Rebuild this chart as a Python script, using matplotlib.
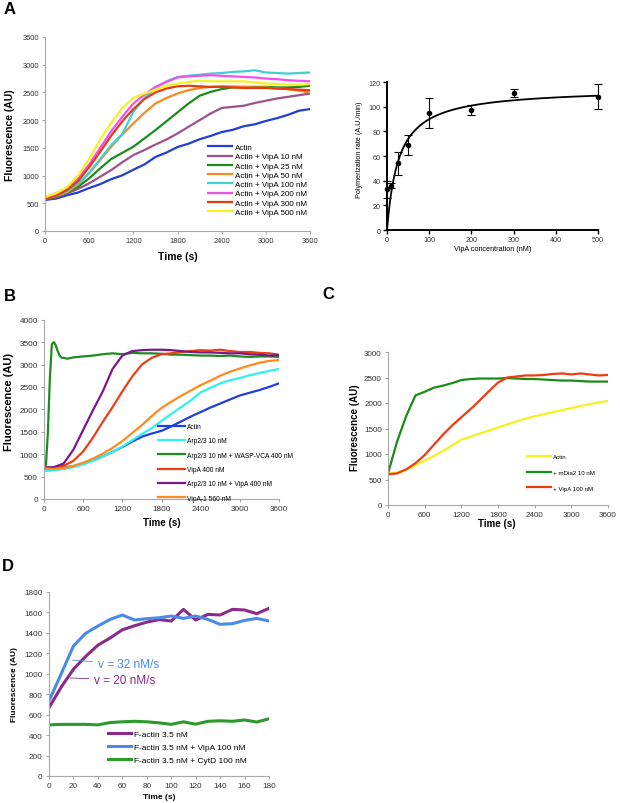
import numpy as np
import matplotlib.pyplot as plt

plt.rcParams['font.family'] = ['Liberation Sans', 'DejaVu Sans']

# ---------------- panel A (left): actin + VipA titration
t_a = np.arange(0, 3601, 150)
a_actin = [560, 585, 645, 695, 775, 845, 935, 1005, 1105, 1200, 1335, 1415, 1515,
           1575, 1655, 1715, 1785, 1825, 1890, 1925, 1985, 2035, 2095, 2170, 2200]
a_vipa10 = [570, 610, 680, 760, 860, 980, 1100, 1240, 1370, 1460, 1560, 1650, 1760,
            1880, 2000, 2120, 2220, 2240, 2260, 2310, 2350, 2390, 2420, 2450, 2480]
a_vipa25 = [570, 620, 690, 800, 950, 1130, 1300, 1410, 1520, 1670, 1820, 1980, 2140,
            2300, 2440, 2510, 2560, 2590, 2600, 2600, 2600, 2590, 2590, 2600, 2620]
a_vipa50 = [580, 630, 700, 840, 1040, 1280, 1520, 1740, 1940, 2130, 2300, 2400, 2480,
            2540, 2580, 2600, 2610, 2610, 2600, 2590, 2590, 2570, 2560, 2530, 2500]
a_vipa100 = [600, 640, 720, 860, 1050, 1300, 1550, 1750, 2150, 2400, 2580, 2700, 2780,
             2800, 2820, 2840, 2850, 2870, 2880, 2900, 2860, 2850, 2840, 2850, 2860]
a_vipa200 = [610, 680, 770, 950, 1200, 1500, 1800, 2060, 2300, 2460, 2600, 2690, 2770,
             2790, 2800, 2810, 2800, 2790, 2780, 2770, 2750, 2740, 2720, 2710, 2700]
a_vipa300 = [580, 640, 740, 900, 1150, 1430, 1720, 1980, 2200, 2380, 2500, 2570, 2610,
             2620, 2610, 2600, 2600, 2590, 2580, 2580, 2580, 2570, 2560, 2550, 2540]
a_vipa500 = [610, 680, 790, 1000, 1300, 1650, 1950, 2220, 2400, 2480, 2550, 2620, 2660,
             2690, 2710, 2700, 2700, 2700, 2700, 2680, 2660, 2650, 2640, 2640, 2650]
a_labels = ['Actin', 'Actin + VipA 10 nM', 'Actin + VipA 25 nM', 'Actin + VipA 50 nM',
            'Actin + VipA 100 nM', 'Actin + VipA 200 nM', 'Actin + VipA 300 nM',
            'Actin + VipA 500 nM']
a_colors = ['#1f3fd8', '#a0508a', '#1e8a1e', '#f88a20', '#40d0d0', '#f050f0',
            '#e83a10', '#f8f020']

# ---------------- panel A (right): rate vs VipA concentration
conc = [0, 10, 25, 50, 100, 200, 300, 500]
rate = [33, 36, 54, 69, 95, 97, 111, 108]
rate_err = [7, 2, 9, 8, 12, 4, 3, 10]
vmax = 115.0   # hyperbolic fit
km = 28.0

# ---------------- panel B: Arp2/3
t_b = np.arange(0, 3601, 150)
b_actin = [680, 690, 700, 730, 790, 860, 950, 1050, 1160, 1280, 1390, 1460, 1520,
           1620, 1730, 1840, 1940, 2040, 2130, 2220, 2310, 2370, 2430, 2500, 2580]
b_arp = [620, 640, 670, 710, 770, 850, 950, 1050, 1170, 1310, 1450, 1580, 1740,
         1900, 2050, 2200, 2380, 2480, 2580, 2650, 2700, 2760, 2810, 2860, 2900]
t_b_vca = [0, 30, 60, 90, 120, 150, 180, 210, 240, 270, 300, 360, 450, 600, 750, 900,
           1050, 1200, 1350, 1500, 1650, 1800, 1950, 2100, 2250, 2400, 2550, 2700,
           2850, 3000, 3150, 3300, 3450, 3600]
b_vca = [720, 760, 1500, 2700, 3450, 3500, 3430, 3300, 3200, 3150, 3150, 3130, 3160,
         3180, 3200, 3230, 3250, 3230, 3260, 3250, 3250, 3240, 3220, 3220, 3210, 3200,
         3200, 3190, 3200, 3180, 3170, 3180, 3180, 3170]
b_vipa = [700, 700, 740, 850, 1060, 1370, 1720, 2050, 2400, 2730, 3000, 3150, 3230,
          3250, 3280, 3300, 3320, 3310, 3330, 3300, 3280, 3280, 3260, 3250, 3220]
b_arp_vipa = [700, 710, 790, 1100, 1540, 1980, 2400, 2900, 3200, 3300, 3320, 3330, 3330,
              3320, 3300, 3280, 3270, 3270, 3260, 3250, 3250, 3230, 3220, 3200, 3210]
b_vipa1 = [680, 670, 690, 740, 810, 900, 1010, 1140, 1290, 1470, 1650, 1850, 2030,
           2170, 2300, 2420, 2540, 2640, 2750, 2840, 2910, 2980, 3040, 3080, 3100]
b_labels = ['Actin', 'Arp2/3 10 nM', 'Arp2/3 10 nM + WASP-VCA 400 nM', 'VipA 400 nM',
            'Arp2/3 10 nM + VipA 400 nM', 'VipA-1 560 nM']
b_colors = ['#1f3fe0', '#30f0f0', '#1e8c1e', '#f03c14', '#7a1a8a', '#ff8a1e']

# ---------------- panel C: mDia2
t_c = np.arange(0, 3601, 150)
c_actin = [620, 640, 690, 780, 870, 960, 1060, 1170, 1280, 1340, 1400, 1460, 1520,
           1580, 1640, 1690, 1740, 1780, 1820, 1860, 1900, 1940, 1980, 2010, 2040]
c_mdia = [620, 1250, 1750, 2150, 2220, 2300, 2340, 2390, 2450, 2470, 2480, 2480, 2480,
          2490, 2480, 2470, 2470, 2460, 2450, 2440, 2440, 2430, 2420, 2420, 2420]
c_vipa = [600, 620, 700, 820, 980, 1180, 1380, 1560, 1720, 1880, 2050, 2230, 2400,
          2500, 2520, 2540, 2540, 2550, 2570, 2580, 2560, 2580, 2560, 2540, 2550]
c_labels = ['Actin', '+ mDia2 10 nM', '+ VipA 100 nM']
c_colors = ['#f5f020', '#1a8c1a', '#f03a10']

# ---------------- panel D: F-actin elongation
t_d = np.arange(0, 181, 10)
d_factin = [668, 870, 1045, 1170, 1280, 1350, 1430, 1470, 1505, 1530, 1516, 1630, 1526,
            1581, 1575, 1630, 1624, 1588, 1640]
d_vipa = [734, 1000, 1272, 1396, 1467, 1532, 1575, 1526, 1539, 1548, 1565, 1542, 1565,
          1532, 1484, 1490, 1522, 1542, 1516]
d_cytd = [500, 505, 505, 505, 500, 523, 530, 535, 530, 520, 505, 530, 507, 535, 540,
          535, 548, 528, 560]
d_labels = ['F-actin 3.5 nM', 'F-actin 3.5 nM + VipA 100 nM', 'F-actin 3.5 nM + CytD 100 nM']
d_colors = ['#8a2a8a', '#4a8ae8', '#2a9a2a']

W, H = 620, 804
fig = plt.figure(figsize=(W / 100, H / 100), dpi=100)


def px_axes(x0, x1, ytop, ybot):
    return fig.add_axes([x0 / W, (H - ybot) / H, (x1 - x0) / W, (ybot - ytop) / H])


def excel_style(ax, fs):
    for s in ['top', 'right']:
        ax.spines[s].set_visible(False)
    for s in ['left', 'bottom']:
        ax.spines[s].set_color('#a8a8a8')
        ax.spines[s].set_linewidth(0.8)
    ax.tick_params(colors='#a8a8a8', labelcolor='#333333', labelsize=fs,
                   length=2.5, width=0.8, pad=2)


def legend_at(ax, x, y, fs, ls, hl):
    leg = ax.legend(loc='upper left', bbox_to_anchor=(x / W, (H - y) / H),
                    bbox_transform=fig.transFigure, frameon=False, fontsize=fs,
                    labelspacing=ls, handlelength=hl, handletextpad=0.3,
                    borderpad=0, borderaxespad=0)
    return leg


# ---- A left
ax = px_axes(45, 310, 38, 232)
for y, lab, c in zip([a_actin, a_vipa10, a_vipa25, a_vipa50, a_vipa100, a_vipa200,
                      a_vipa300, a_vipa500], a_labels, a_colors):
    ax.plot(t_a, y, color=c, lw=1.6, label=lab)
ax.set_xlim(0, 3600)
ax.set_ylim(0, 3500)
ax.set_xticks(np.arange(0, 3601, 600))
ax.set_yticks(np.arange(0, 3501, 500))
excel_style(ax, 5.4)
ax.set_xlabel('Time (s)', fontsize=7.5, fontweight='bold', va='center')
ax.set_ylabel('Fluorescence (AU)', fontsize=7.5, fontweight='bold', va='center')
ax.xaxis.set_label_coords(0.5, -0.129)
ax.yaxis.set_label_coords(-0.132, 0.5)
legend_at(ax, 208, 144.5, 5.8, 0.2, 3.0)

# ---- A right
ax = px_axes(387, 598, 83, 231)
x_fit = np.linspace(0, 500, 300)
ax.plot(x_fit, vmax * x_fit / (km + x_fit), color='black', lw=1.3)
ax.errorbar(conc, rate, yerr=rate_err, fmt='o', color='black', ms=3, capsize=3,
            elinewidth=0.8, capthick=0.8, clip_on=False)
ax.set_xlim(0, 500)
ax.set_ylim(0, 120)
ax.set_xticks(np.arange(0, 501, 100))
ax.set_yticks(np.arange(0, 121, 20))
for s in ['top', 'right']:
    ax.spines[s].set_visible(False)
for s in ['left', 'bottom']:
    ax.spines[s].set_linewidth(1.4)
ax.tick_params(labelsize=5.2, length=3, width=1, pad=1.5, labelcolor='#333333')
ax.set_xlabel('VipA concentration (nM)', fontsize=5.2, va='center')
ax.set_ylabel('Polymerization rate (A.U./min)', fontsize=5.2, va='center')
ax.xaxis.set_label_coords(0.502, -0.128)
ax.yaxis.set_label_coords(-0.128, 0.547)

# ---- B
ax = px_axes(44, 279, 320.7, 500)
ax.plot(t_b, b_actin, color=b_colors[0], lw=1.6, label=b_labels[0])
ax.plot(t_b, b_arp, color=b_colors[1], lw=1.6, label=b_labels[1])
ax.plot(t_b_vca, b_vca, color=b_colors[2], lw=1.6, label=b_labels[2])
ax.plot(t_b, b_vipa, color=b_colors[3], lw=1.6, label=b_labels[3])
ax.plot(t_b, b_arp_vipa, color=b_colors[4], lw=1.6, label=b_labels[4])
ax.plot(t_b, b_vipa1, color=b_colors[5], lw=1.6, label=b_labels[5])
ax.set_xlim(0, 3600)
ax.set_ylim(0, 4000)
ax.set_xticks(np.arange(0, 3601, 600))
ax.set_yticks(np.arange(0, 4001, 500))
excel_style(ax, 5.9)
ax.set_xlabel('Time (s)', fontsize=7, fontweight='bold', va='center')
ax.set_ylabel('Fluorescence (AU)', fontsize=8, fontweight='bold', va='center')
ax.xaxis.set_label_coords(0.5, -0.128)
ax.yaxis.set_label_coords(-0.149, 0.547)
legend_at(ax, 158, 424, 4.8, 1.1, 4.0)

# ---- C
ax = px_axes(388, 608, 353, 506)
for y, lab, c in zip([c_actin, c_mdia, c_vipa], c_labels, c_colors):
    ax.plot(t_c, y, color=c, lw=1.6, label=lab)
ax.set_xlim(0, 3600)
ax.set_ylim(0, 3000)
ax.set_xticks(np.arange(0, 3601, 600))
ax.set_yticks(np.arange(0, 3001, 500))
excel_style(ax, 5.8)
ax.set_xlabel('Time (s)', fontsize=7, fontweight='bold', va='center')
ax.set_ylabel('Fluorescence (AU)', fontsize=7, fontweight='bold', va='center')
ax.xaxis.set_label_coords(0.495, -0.118)
ax.yaxis.set_label_coords(-0.15, 0.51)
legend_at(ax, 527, 455, 4.4, 1.7, 4.0)

# ---- D
ax = px_axes(49, 269, 593, 777)
for y, lab, c in zip([d_factin, d_vipa, d_cytd], d_labels, d_colors):
    ax.plot(t_d, y, color=c, lw=2.2, label=lab)
ax.set_xlim(0, 180)
ax.set_ylim(0, 1800)
ax.set_xticks(np.arange(0, 181, 20))
ax.set_yticks(np.arange(0, 1801, 200))
excel_style(ax, 5.9)
ax.set_xlabel('Time (s)', fontsize=6, fontweight='bold', va='center')
ax.set_ylabel('Fluorescence (AU)', fontsize=6, fontweight='bold', va='center')
ax.xaxis.set_label_coords(0.5, -0.109)
ax.yaxis.set_label_coords(-0.155, 0.5)
legend_at(ax, 108, 731, 6, 0.65, 2.8)
ax.annotate('v = 32 nM/s', xy=(17, 1135), xytext=(40, 1096), color=d_colors[1],
            fontsize=8.5, va='center',
            arrowprops=dict(arrowstyle='-', color=d_colors[1], lw=0.6))
ax.annotate('v = 20 nM/s', xy=(15, 960), xytext=(37, 939), color=d_colors[0],
            fontsize=8.5, va='center',
            arrowprops=dict(arrowstyle='-', color=d_colors[0], lw=0.6))

# panel letters
for lab, x, y in [('A', 10, 10), ('B', 10, 297), ('C', 328, 295), ('D', 8, 567)]:
    fig.text(x / W, (H - y) / H, lab, fontsize=12, fontweight='bold',
             ha='center', va='center')

fig.savefig('out.png', dpi=100)
